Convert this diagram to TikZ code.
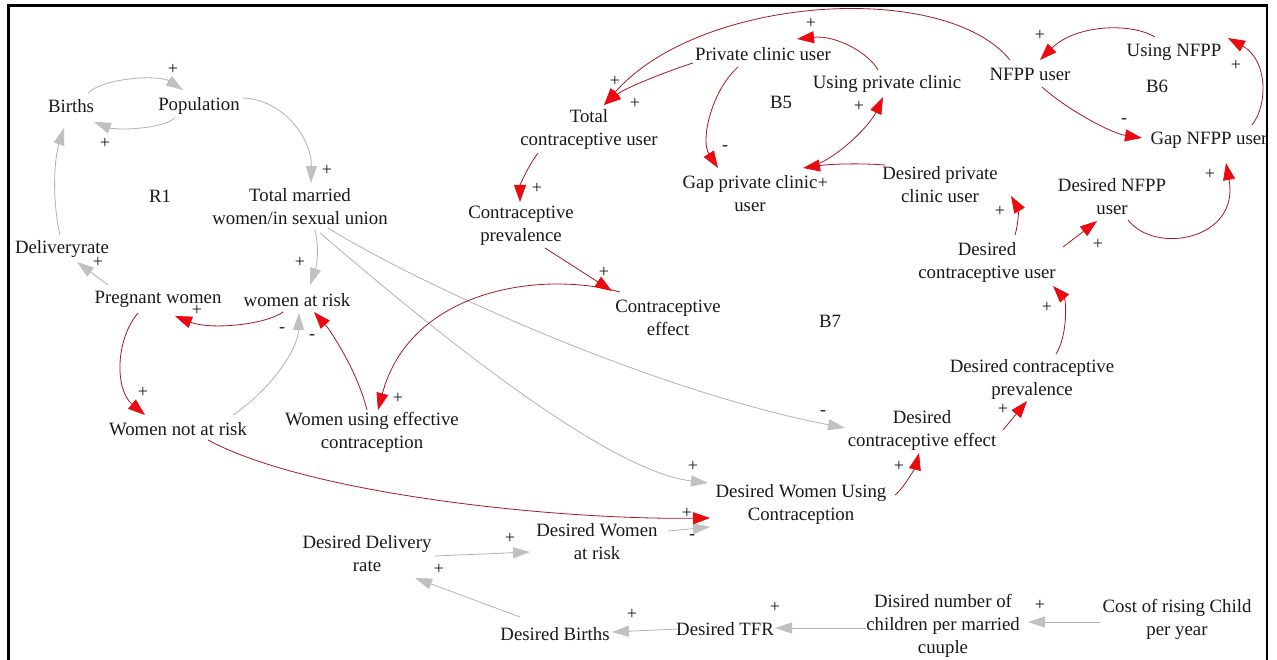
\documentclass[tikz,border=0pt]{standalone}
\usepackage{fontspec}
\setmainfont{Liberation Serif}
\usetikzlibrary{arrows.meta}
\definecolor{gline}{RGB}{178,178,178}
\definecolor{ghead}{RGB}{192,192,192}
\definecolor{rline}{RGB}{165,25,35}
\definecolor{rhead}{RGB}{235,10,15}
\definecolor{ink}{RGB}{25,25,25}

\begin{document}
\begin{tikzpicture}[x=1pt,y=-1pt,
  var/.style={font=\fontsize{18.8}{23}\selectfont, align=center, inner sep=0pt, text=ink},
  pol/.style={font=\fontsize{18}{20}\selectfont, inner sep=0pt, text=ink},
  gl/.style={draw=gline, line width=0.8pt, -{Triangle[length=17pt,width=11pt,color=ghead]}},
  rl/.style={draw=rline, line width=0.8pt, -{Triangle[length=17pt,width=12pt,color=rhead]}}]

\useasboundingbox (0,0) rectangle (1277,660);
\fill[white] (0,0) rectangle (1277,660);

% ---- variables ----
\node[var] (births) at (71,106) {Births};
\node[var] (pop) at (199,106) {Population};
\node[var] (r1) at (160,196) {R1};
\node[var] (tmw) at (300,207) {Total married\\women/in sexual union};
\node[var] (deliv) at (62,249) {Deliveryrate};
\node[var] (preg) at (158,299) {Pregnant women};
\node[var] (war) at (297,300) {women at risk};
\node[var] (wnar) at (178,429) {Women not at risk};
\node[var] (wuec) at (372,432) {Women using effective\\contraception};
\node[var] (tcu) at (589,129) {Total\\contraceptive user};
\node[var] (pcu) at (763,54) {Private clinic user};
\node[var] (b5) at (781,102) {B5};
\node[var] (upc) at (887,84) {Using private clinic};
\node[var] (gpc) at (750,194) {Gap private clinic\\user};
\node[var] (dpc) at (940,185) {Desired private\\clinic user};
\node[var] (nfpp) at (1030,74) {NFPP user};
\node[var] (unfpp) at (1174,52) {Using NFPP};
\node[var] (b6) at (1157,86) {B6};
\node[var] (gnfpp) at (1209,140) {Gap NFPP user};
\node[var] (dnfpp) at (1112,197) {Desired NFPP\\user};
\node[var] (dcu) at (987,262) {Desired\\contraceptive user};
\node[var] (b7) at (830,321) {B7};
\node[var] (ce) at (668,318) {Contraceptive\\effect};
\node[var] (cp) at (521,226) {Contraceptive\\prevalence};
\node[var] (dcp) at (1032,379) {Desired contraceptive\\prevalence};
\node[var] (dce) at (922,430) {Desired\\contraceptive effect};
\node[var] (dwuc) at (801,504) {Desired Women Using\\Contraception};
\node[var] (dwar) at (597,542) {Desired Women\\at risk};
\node[var] (ddr) at (367,554) {Desired Delivery\\rate};
\node[var] (db) at (555,634) {Desired Births};
\node[var] (dtfr) at (725,629) {Desired TFR};
\node[var] (dnc) at (943,626) {Disired number of\\children per married\\cuuple};
\node[var] (cost) at (1177,619) {Cost of rising Child\\per year};

% ---- grey links ----
\draw[gl] ([shift={(17,-13)}]births.center) .. controls +(17,-16) and +(-23,-15) .. ([shift={(-16,-16)}]pop.center);
\draw[gl] ([shift={(-24,12)}]pop.center) .. controls +(-15,12) and +(21,8) .. ([shift={(23,16)}]births.center);
\draw[gl] ([shift={(44,-8)}]pop.center) .. controls +(42,2) and +(1,-43) .. ([shift={(11,-24)}]tmw.center);
\draw[gl] ([shift={(-2,-14)}]deliv.center) .. controls +(-8,-35) and +(-10,32) .. ([shift={(-7,22)}]births.center);
\draw[gl] ([shift={(-50,-14)}]preg.center) -- ([shift={(15,13)}]deliv.center);
\draw[gl] ([shift={(15,23)}]tmw.center) .. controls +(5,20) and +(6,-17) .. ([shift={(13,-15)}]war.center);
\draw[gl] ([shift={(55,-14)}]wnar.center) .. controls +(37,-25) and +(-1,37) .. ([shift={(2,13)}]war.center);
\draw[gl] ([shift={(28,21)}]tmw.center) .. controls +(92,57) and +(-195,-38) .. ([shift={(-77,-2)}]dce.center);
\draw[gl] ([shift={(20,26)}]tmw.center) .. controls +(90,77) and +(-108,-13) .. ([shift={(-93,-21)}]dwuc.center);
\draw[gl] ([shift={(71,-11)}]dwar.center) -- ([shift={(-91,23)}]dwuc.center);
\draw[gl] ([shift={(68,2)}]ddr.center) -- ([shift={(-67,10)}]dwar.center);
\draw[gl] ([shift={(-35,-17)}]db.center) -- ([shift={(48,24)}]ddr.center);
\draw[gl] ([shift={(-47,0)}]dtfr.center) -- ([shift={(57,-2)}]db.center);
\draw[gl] ([shift={(-77,2)}]dnc.center) -- ([shift={(50,-1)}]dtfr.center);
\draw[gl] ([shift={(-77,3)}]cost.center) -- ([shift={(85,-4)}]dnc.center);

% ---- red links ----
\draw[rl] ([shift={(-14,12)}]war.center) .. controls +(-18,13) and +(35,14) .. ([shift={(17,17)}]preg.center);
\draw[rl] ([shift={(-20,14)}]preg.center) .. controls +(-23,27) and +(-30,-25) .. ([shift={(-33,-14)}]wnar.center);
\draw[rl] ([shift={(-5,-22)}]wuec.center) .. controls +(-10,-40) and +(16,18) .. ([shift={(17,12)}]war.center);
\draw[rl] ([shift={(-48,-26)}]ce.center) .. controls +(-80,-22) and +(32,-120) .. ([shift={(6,-22)}]wuec.center);
\draw[rl] ([shift={(24,22)}]cp.center) -- ([shift={(-56,-27)}]ce.center);
\draw[rl] ([shift={(-51,24)}]tcu.center) .. controls +(-11,15) and +(0,-17) .. ([shift={(-1,-24)}]cp.center);
\draw[rl] ([shift={(-70,9)}]pcu.center) .. controls +(-28,9) and +(21,-17) .. ([shift={(15,-24)}]tcu.center);
\draw[rl] ([shift={(-20,-14)}]nfpp.center) .. controls +(-65,-80) and +(96,-110) .. ([shift={(15,-24)}]tcu.center);
\draw[rl] ([shift={(-9,-14)}]upc.center) .. controls +(-10,-18) and +(38,-4) .. ([shift={(34,-15)}]pcu.center);
\draw[rl] ([shift={(-25,13)}]pcu.center) .. controls +(-26,23) and +(-18,-28) .. ([shift={(-32,-26)}]gpc.center);
\draw[rl] ([shift={(70,-31)}]gpc.center) .. controls +(22,-10) and +(-13,28) .. ([shift={(-4,13)}]upc.center);
\draw[rl] ([shift={(-55,-20)}]dpc.center) .. controls +(-25,-2) and +(27,-4) .. ([shift={(53,-26)}]gpc.center);
\draw[rl] ([shift={(28,-27)}]dcu.center) .. controls +(4,-13) and +(7,12) .. ([shift={(71,11)}]dpc.center);
\draw[rl] ([shift={(76,-15)}]dcu.center) -- ([shift={(-15,24)}]dnfpp.center);
\draw[rl] ([shift={(16,23)}]dnfpp.center) .. controls +(27,35) and +(14,77) .. ([shift={(17,23)}]gnfpp.center);
\draw[rl] ([shift={(12,13)}]nfpp.center) .. controls +(23,21) and +(-32,-5) .. ([shift={(-67,-2)}]gnfpp.center);
\draw[rl] ([shift={(43,-15)}]gnfpp.center) .. controls +(16,-20) and +(40,22) .. ([shift={(54,-14)}]unfpp.center);
\draw[rl] ([shift={(-19,-15)}]unfpp.center) .. controls +(-25,-15) and +(35,-35) .. ([shift={(10,-14)}]nfpp.center);
\draw[rl] ([shift={(30,11)}]wnar.center) .. controls +(102,55) and +(-150,2) .. ([shift={(-91,14)}]dwuc.center);
\draw[rl] ([shift={(94,-9)}]dwuc.center) .. controls +(10,-8) and +(-3,12) .. ([shift={(-3,23)}]dce.center);
\draw[rl] ([shift={(81,0)}]dce.center) -- ([shift={(-5,22)}]dcp.center);
\draw[rl] ([shift={(24,-25)}]dcp.center) .. controls +(12,-19) and +(13,14) .. ([shift={(66,24)}]dcu.center);

% ---- link polarities ----
\node[pol] (s1) at (173,69) {+};
\node[pol] (s2) at (105,143) {+};
\node[pol] (s3) at (327,170) {+};
\node[pol] (s4) at (98,262) {+};
\node[pol] (s5) at (300,262) {+};
\node[pol] (s6) at (197,310) {+};
\node[pol] (s7) at (143,392) {+};
\node[pol] (s8) at (282,330) {-};
\node[pol] (s9) at (312,337) {-};
\node[pol] (s10) at (398,398) {+};
\node[pol] (s11) at (604,272) {+};
\node[pol] (s12) at (537,188) {+};
\node[pol] (s13) at (615,81) {+};
\node[pol] (s14) at (635,103) {+};
\node[pol] (s15) at (811,23) {+};
\node[pol] (s16) at (725,148) {-};
\node[pol] (s17) at (823,183) {+};
\node[pol] (s18) at (859,106) {+};
\node[pol] (s19) at (1040,35) {+};
\node[pol] (s20) at (1236,65) {+};
\node[pol] (s21) at (1124,121) {-};
\node[pol] (s22) at (1210,174) {+};
\node[pol] (s23) at (1000,211) {+};
\node[pol] (s24) at (1098,244) {+};
\node[pol] (s25) at (1047,307) {+};
\node[pol] (s26) at (1003,409) {+};
\node[pol] (s27) at (823,413) {-};
\node[pol] (s28) at (899,466) {+};
\node[pol] (s29) at (693,466) {+};
\node[pol] (s30) at (687,513) {+};
\node[pol] (s31) at (692,537) {-};
\node[pol] (s32) at (510,538) {+};
\node[pol] (s33) at (439,569) {+};
\node[pol] (s34) at (632,614) {+};
\node[pol] (s35) at (775,607) {+};
\node[pol] (s36) at (1040,605) {+};

% ---- frame ----
\draw[line width=2.6pt, black] (8.5,664) -- (8.5,5.5) -- (1267,5.5) -- (1267,664);
\end{tikzpicture}
\end{document}
